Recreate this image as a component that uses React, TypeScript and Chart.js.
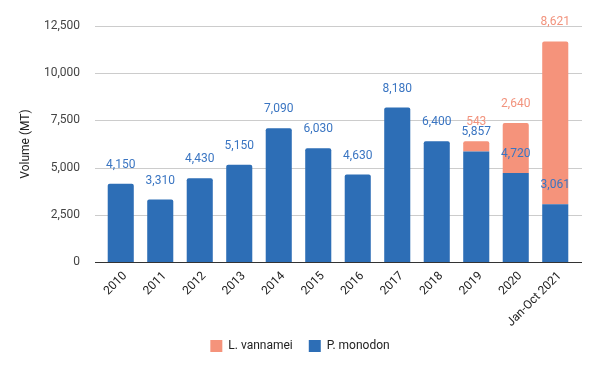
import React, { useEffect, useRef } from "react";
import { Chart, registerables } from "chart.js";

Chart.register(...registerables);

const categories = ["2010", "2011", "2012", "2013", "2014", "2015", "2016", "2017", "2018", "2019", "2020", "Jan-Oct 2021"];
const monodon = [4150, 3310, 4430, 5150, 7090, 6030, 4630, 8180, 6400, 5857, 4720, 3061];
const vannamei: (number | null)[] = [null, null, null, null, null, null, null, null, null, 543, 2640, 8621];
const yTicks = [0, 2500, 5000, 7500, 10000, 12500];

const BLUE = "#2d6eb6";
const SALMON = "#f5937b";
const BLUE_TXT = "#3a75c2";
const SALMON_TXT = "#f2937d";
const FONT = "Roboto, Arial, sans-serif";

const gridPlugin = {
  id: "extGrid",
  beforeDatasetsDraw(chart: any) {
    const { ctx, chartArea } = chart;
    const y = chart.scales.y;
    ctx.save();
    ctx.lineWidth = 1;
    y.ticks.forEach((t: any) => {
      if (t.value === 0) return;
      const py = Math.round(y.getPixelForValue(t.value)) + 0.5;
      ctx.strokeStyle = "#ccc";
      ctx.beginPath();
      ctx.moveTo(chartArea.left - 6, py);
      ctx.lineTo(chartArea.right + 7, py);
      ctx.stroke();
    });
    ctx.restore();
  },
  afterDatasetsDraw(chart: any) {
    const { ctx, chartArea } = chart;
    const y = chart.scales.y;
    const py = Math.round(y.getPixelForValue(0)) + 0.5;
    ctx.save();
    ctx.strokeStyle = "#333";
    ctx.lineWidth = 1;
    ctx.beginPath();
    ctx.moveTo(chartArea.left - 6, py);
    ctx.lineTo(chartArea.right + 7, py);
    ctx.stroke();
    // rotated category labels
    const x = chart.scales.x;
    ctx.fillStyle = "#222";
    ctx.font = `12px ${FONT}`;
    ctx.textAlign = "right";
    ctx.textBaseline = "middle";
    categories.forEach((c, i) => {
      const px = x.getPixelForValue(i);
      ctx.save();
      ctx.translate(px + 4.5, chartArea.bottom + 12);
      ctx.rotate(-Math.PI / 4);
      ctx.fillText(c, 0, 0);
      ctx.restore();
    });
    ctx.restore();
  },
};

const labelPlugin = {
  id: "barLabels",
  afterDatasetsDraw(chart: any) {
    const ctx = chart.ctx;
    ctx.save();
    ctx.font = `12px ${FONT}`;
    ctx.textAlign = "center";
    ctx.textBaseline = "middle";
    chart.data.datasets.forEach((ds: any, di: number) => {
      const meta = chart.getDatasetMeta(di);
      meta.data.forEach((el: any, i: number) => {
        const v = ds.data[i];
        if (v == null) return;
        ctx.fillStyle = di === 0 ? BLUE_TXT : SALMON_TXT;
        ctx.fillText(v.toLocaleString("en-US"), el.x, el.y - 19);
      });
    });
    ctx.restore();
  },
};

export default function App() {
  const ref = useRef<HTMLCanvasElement>(null);
  useEffect(() => {
    document.body.style.margin = "0";
    const chart = new Chart(ref.current!, {
      type: "bar",
      data: {
        labels: categories,
        datasets: [
          { label: "P. monodon", data: monodon, backgroundColor: BLUE, borderRadius: 2, categoryPercentage: 0.66, barPercentage: 1 },
          { label: "L. vannamei", data: vannamei, backgroundColor: SALMON, borderRadius: 2, categoryPercentage: 0.66, barPercentage: 1 },
        ],
      },
      options: {
        responsive: false,
        animation: false,
        layout: { padding: { top: 26, right: 0, left: 0, bottom: 9 } },
        plugins: {
          legend: {
            position: "bottom",
            reverse: true,
            labels: { boxWidth: 12, boxHeight: 12, padding: 16, color: "#222", font: { family: FONT, size: 12 } },
          },
          tooltip: { enabled: false },
        },
        scales: {
          x: {
            stacked: true,
            grid: { display: false },
            border: { display: false },
            afterFit: (s: any) => { s.height = 62; },
            ticks: { display: false },
          },
          y: {
            stacked: true,
            min: 0,
            max: 12500,
            afterBuildTicks: (s: any) => { s.ticks = yTicks.map((v) => ({ value: v })); },
            afterFit: (s: any) => { s.width = 101; },
            grid: { display: false },
            border: { display: false },
            ticks: { color: "#444", padding: 13, font: { family: FONT, size: 12 }, callback: (v: any) => Number(v).toLocaleString("en-US") },
            title: { display: true, text: "Volume (MT)", color: "#222", font: { family: FONT, size: 12 }, padding: { top: 19, bottom: 0 } },
          },
          y2: {
            position: "right",
            display: true,
            grid: { display: false },
            border: { display: false },
            ticks: { display: false },
            afterFit: (s: any) => { s.width = 25; },
          },
        },
      },
      plugins: [gridPlugin, labelPlugin],
    });
    return () => chart.destroy();
  }, []);
  return <canvas ref={ref} width={600} height={371} style={{ display: "block" }} />;
}
